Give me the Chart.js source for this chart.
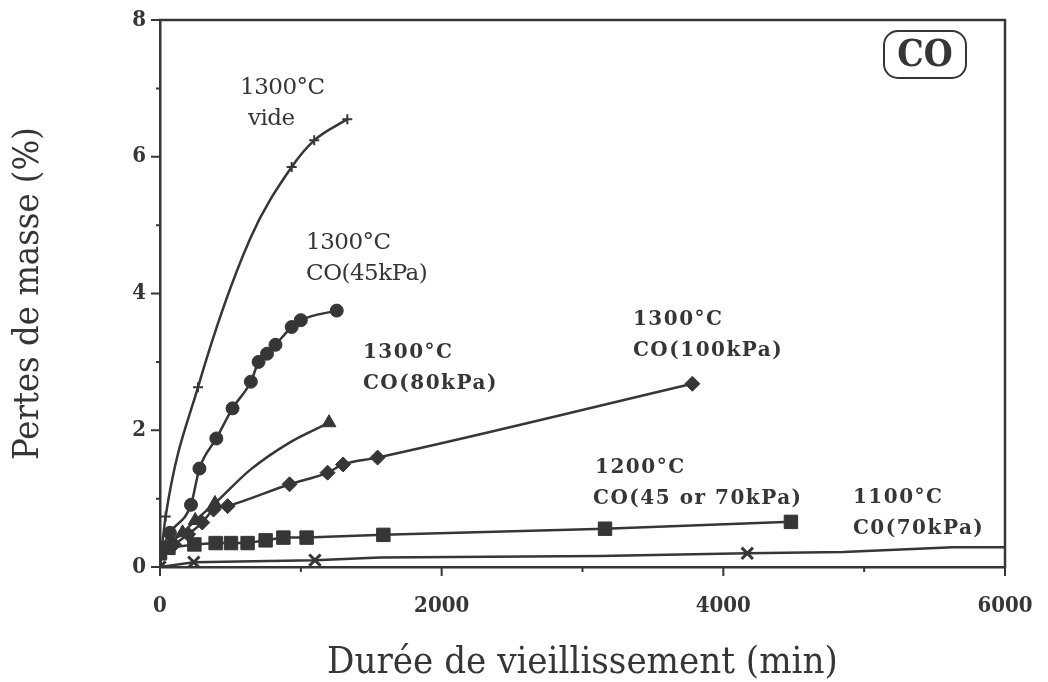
<!DOCTYPE html>
<html lang="fr">
<head>
<meta charset="UTF-8">
<title>Pertes de masse sous CO</title>
<script src="https://cdn.jsdelivr.net/npm/chart.js"></script>
<style>
  html, body { margin: 0; padding: 0; background: #fff; }
  #wrap { width: 1048px; height: 682px; }
</style>
</head>
<body>
<div id="wrap"><canvas id="chart" width="1048" height="682"></canvas></div>
<script>
// durée de vieillissement (min) et pertes de masse (%) par condition
const videX = [0, 40, 270, 640, 935, 1095, 1330];
const videY = [0, 0.74, 2.63, 4.8, 5.85, 6.24, 6.55];
const videShown = [1, 1, 1, 0, 1, 1, 1];

const co45X = [0, 70, 220, 280, 400, 515, 645, 700, 760, 820, 935, 1000, 1255];
const co45Y = [0.2, 0.5, 0.91, 1.44, 1.88, 2.32, 2.71, 3.0, 3.12, 3.25, 3.51, 3.61, 3.75];

const co80X = [0, 80, 160, 250, 390, 640, 920, 1200];
const co80Y = [0.2, 0.36, 0.5, 0.68, 0.93, 1.42, 1.82, 2.11];
const co80Shown = [1, 1, 1, 1, 1, 0, 0, 1];

const co100X = [0, 100, 200, 300, 380, 480, 920, 1190, 1300, 1545, 3780];
const co100Y = [0.2, 0.33, 0.48, 0.65, 0.84, 0.89, 1.21, 1.38, 1.5, 1.6, 2.68];

const t1200X = [0, 60, 244, 395, 504, 622, 750, 876, 1041, 1586, 3160, 4480];
const t1200Y = [0.2, 0.28, 0.33, 0.35, 0.35, 0.35, 0.39, 0.43, 0.43, 0.47, 0.56, 0.66];

const t1100X = [0, 240, 1100, 1560, 3120, 4170, 4850, 5630, 6000];
const t1100Y = [0, 0.07, 0.1, 0.14, 0.16, 0.2, 0.22, 0.29, 0.29];
const t1100Shown = [1, 1, 1, 0, 0, 1, 0, 0, 0];

const xTicks = [0, 1000, 2000, 3000, 4000, 5000, 6000];
const yTicks = [0, 1, 2, 3, 4, 5, 6, 7, 8];

const ink = '#363636';
const serif = "'DejaVu Serif Condensed', 'DejaVu Serif', serif";

function pts(xs, ys) {
  return xs.map((x, i) => ({ x: x, y: ys[i] }));
}

function serie(label, xs, ys, extra) {
  return Object.assign({
    label: label,
    data: pts(xs, ys),
    borderColor: ink,
    backgroundColor: ink,
    borderWidth: 2.5,
    pointBorderColor: ink,
    pointBackgroundColor: ink,
    pointBorderWidth: 1,
    cubicInterpolationMode: 'monotone'
  }, extra);
}

// textes posés dans le graphe, en unités des axes
const notes = [
  { lines: ['1300°C', 'vide'], x: 568, y: 7.0, dx: [0, 8], bold: false },
  { lines: ['1300°C', 'CO(45kPa)'], x: 1037, y: 4.74, dx: [0, 0], bold: false },
  { lines: ['1300°C', 'CO(80kPa)'], x: 1441, y: 3.14, dx: [0, 0], bold: true },
  { lines: ['1300°C', 'CO(100kPa)'], x: 3358, y: 3.61, dx: [0, 0], bold: true },
  { lines: ['1200°C', 'CO(45 or 70kPa)'], x: 3089, y: 1.45, dx: [0, -2], bold: true },
  { lines: ['1100°C', 'C0(70kPa)'], x: 4920, y: 1.01, dx: [0, 0], bold: true }
];

const decor = {
  id: 'decor',
  afterDraw(chart) {
    const { ctx, chartArea: a, scales: { x, y } } = chart;
    ctx.save();
    ctx.strokeStyle = ink;
    ctx.fillStyle = ink;

    // cadre haut et droit
    ctx.lineWidth = 2.5;
    ctx.beginPath();
    ctx.moveTo(a.left - 1, a.top);
    ctx.lineTo(a.right, a.top);
    ctx.lineTo(a.right, a.bottom + 1);
    ctx.stroke();

    // graduations vers l'extérieur
    ctx.lineWidth = 2;
    ctx.beginPath();
    x.ticks.forEach(t => {
      const px = x.getPixelForValue(t.value);
      const len = t.value % 2000 ? 5 : 9;
      ctx.moveTo(px, a.bottom);
      ctx.lineTo(px, a.bottom + len);
    });
    y.ticks.forEach(t => {
      const py = y.getPixelForValue(t.value);
      const len = t.value % 2 ? 4 : 9;
      ctx.moveTo(a.left, py);
      ctx.lineTo(a.left - len, py);
    });
    ctx.stroke();

    // annotations des courbes
    ctx.textBaseline = 'middle';
    ctx.textAlign = 'left';
    notes.forEach(n => {
      const px = x.getPixelForValue(n.x);
      const py = y.getPixelForValue(n.y);
      if (n.bold) {
        ctx.font = "bold 20px 'DejaVu Serif'";
        ctx.letterSpacing = '1.5px';
      } else {
        ctx.font = "23px 'DejaVu Serif'";
        ctx.letterSpacing = '-0.5px';
      }
      n.lines.forEach((s, i) => ctx.fillText(s, px + n.dx[i], py + i * 31));
    });
    ctx.letterSpacing = '0px';

    // cartouche CO
    const bx = a.right - 121, by = a.top + 11, bw = 82, bh = 47;
    ctx.lineWidth = 2;
    ctx.beginPath();
    ctx.roundRect(bx, by, bw, bh, 14);
    ctx.stroke();
    ctx.font = "bold 37px 'DejaVu Serif Condensed', 'DejaVu Serif'";
    ctx.textAlign = 'center';
    ctx.fillText('CO', bx + bw / 2, by + bh / 2 + 2);
    ctx.restore();
  }
};

new Chart(document.getElementById('chart'), {
  type: 'line',
  data: {
    datasets: [
      serie('1300°C vide', videX, videY, { pointStyle: 'cross', pointRadius: videShown.map(s => s ? 5 : 0), pointBorderWidth: 2 }),
      serie('1300°C CO(45kPa)', co45X, co45Y, { pointStyle: 'circle', pointRadius: 6.5 }),
      serie('1300°C CO(80kPa)', co80X, co80Y, { pointStyle: 'triangle', pointRadius: co80Shown.map(s => s ? 8 : 0) }),
      serie('1300°C CO(100kPa)', co100X, co100Y, { pointStyle: 'rectRot', pointRadius: 7.5 }),
      serie('1200°C CO(45 or 70kPa)', t1200X, t1200Y, { pointStyle: 'rect', pointRadius: 9.5, cubicInterpolationMode: 'default', tension: 0 }),
      serie('1100°C C0(70kPa)', t1100X, t1100Y, { pointStyle: 'crossRot', pointRadius: t1100Shown.map(s => s ? 8 : 0), pointBorderWidth: 3, cubicInterpolationMode: 'default', tension: 0 })
    ]
  },
  options: {
    responsive: false,
    animation: false,
    events: [],
    layout: { padding: { left: 0, top: 20, right: 43, bottom: 0 } },
    plugins: { legend: { display: false }, tooltip: { enabled: false } },
    scales: {
      x: {
        type: 'linear',
        min: 0,
        max: 6000,
        afterFit(s) { s.height = 115; s.paddingLeft = 0; s.paddingRight = 0; },
        afterBuildTicks(s) { s.ticks = xTicks.map(v => ({ value: v })); },
        grid: { display: false, drawTicks: false },
        border: { display: true, color: ink, width: 2.5 },
        ticks: {
          color: ink,
          padding: 26,
          maxRotation: 0,
          autoSkip: false,
          font: { family: serif, weight: 'bold', size: 22 },
          callback: v => (v % 2000 === 0 ? String(v) : '')
        },
        title: {
          display: true,
          text: 'Durée de vieillissement (min)',
          color: ink,
          font: { family: serif, size: 38, lineHeight: 1 },
          padding: { top: 0, bottom: 0 }
        }
      },
      y: {
        type: 'linear',
        min: 0,
        max: 8,
        afterFit(s) { s.width = 160; s.paddingTop = 0; s.paddingBottom = 0; },
        afterBuildTicks(s) { s.ticks = yTicks.map(v => ({ value: v })); },
        grid: { display: false, drawTicks: false },
        border: { display: true, color: ink, width: 2.5 },
        ticks: {
          color: ink,
          padding: 14,
          autoSkip: false,
          font: { family: serif, weight: 'bold', size: 22 },
          callback: v => (v % 2 === 0 ? String(v) : '')
        },
        title: {
          display: true,
          text: 'Pertes de masse (%)',
          color: ink,
          font: { family: serif, size: 36 },
          padding: { top: 7, bottom: 0 }
        }
      }
    }
  },
  plugins: [decor]
});
</script>
</body>
</html>
